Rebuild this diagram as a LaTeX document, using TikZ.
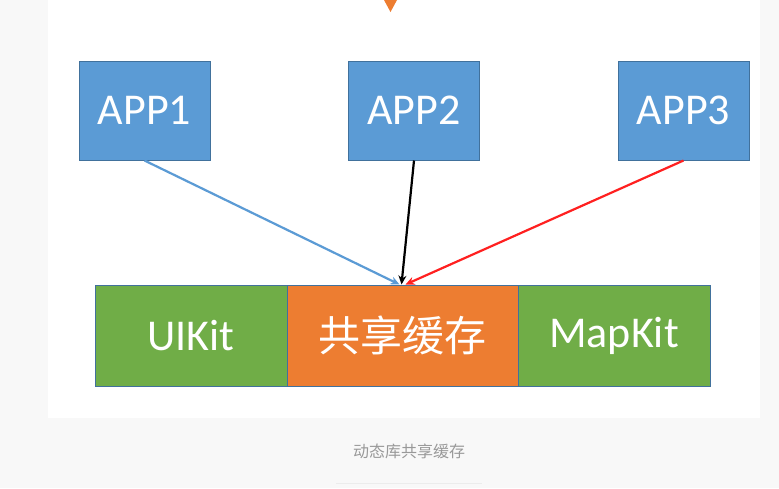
\documentclass[tikz,border=0pt]{standalone}
\usepackage{fontspec}
\setmainfont{Carlito}
\newfontfamily\cjk{Noto Sans CJK SC}
\usetikzlibrary{arrows.meta}

\definecolor{appblue}{HTML}{5B9BD5}
\definecolor{appedge}{HTML}{41719C}
\definecolor{kitgreen}{HTML}{70AD47}
\definecolor{cacheorange}{HTML}{ED7D31}
\definecolor{linkblue}{HTML}{5B9BD5}
\definecolor{linkred}{HTML}{FF2020}
\definecolor{pagegray}{HTML}{F8F8F8}
\definecolor{captiongray}{HTML}{999999}

\tikzset{
  appbox/.style={draw=appedge, line width=1pt, fill=appblue, text=white,
    minimum width=131pt, minimum height=99pt, inner sep=0pt,
    font=\fontsize{44}{50}\selectfont},
  kitbox/.style={draw=appedge, line width=1pt, fill=kitgreen, text=white,
    minimum width=192pt, minimum height=101pt, inner sep=0pt,
    font=\fontsize{44}{50}\selectfont},
  link/.style={line width=2.2pt, -{Stealth[length=9pt,width=8pt]}}
}

\begin{document}
\begin{tikzpicture}[x=1pt,y=-1pt]
    \useasboundingbox (0,0) rectangle (779,488);
    \fill[pagegray] (0,0) rectangle (779,488);
    \fill[white] (48,0) rectangle (760,418);
    \fill[cacheorange] (384,0) -- (397,0) -- (390.5,12) -- cycle;

    \node[appbox] (app1) at (144.5,110.5) {APP1};
    \node[appbox] (app2) at (414,110.5) {APP2};
    \node[appbox] (app3) at (683.5,110.5) {APP3};

    \node[kitbox] (uikit) at (191,335.5) {UIKit};
    \node[kitbox, fill=cacheorange, minimum width=231pt, font=\cjk\fontsize{42}{50}\selectfont] (cache) at (402.5,335.5) {共享缓存};
    \node[kitbox] (mapkit) at (614,335.5) {MapKit};

    \draw[link, linkblue] (app1.south) -- ([xshift=-3pt]cache.north);
    \draw[link, black] (app2.south) -- ([xshift=-1pt]cache.north);
    \draw[link, linkred] (app3.south) -- ([xshift=3pt]cache.north);

    \node[text=captiongray, font=\cjk\fontsize{16}{19}\selectfont] (caption) at (409,451) {动态库共享缓存};
    \draw[gray!15, line width=1pt] (336,483) -- (482,483);
\end{tikzpicture}
\end{document}
